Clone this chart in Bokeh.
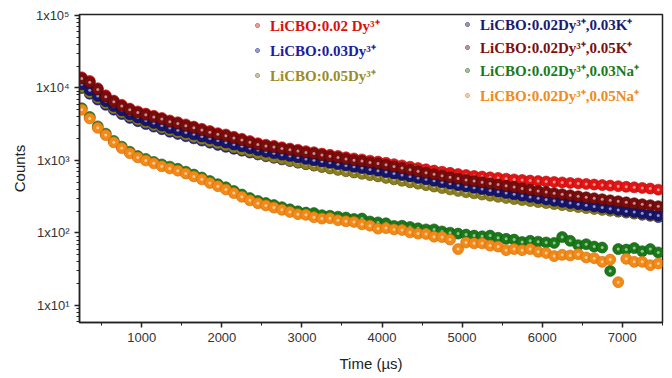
from bokeh.plotting import figure
from bokeh.models import Legend, LegendItem, FixedTicker, Range1d
from bokeh.embed import file_html
from bokeh.resources import INLINE

# ---- data ----
t_us = [250, 350, 450, 550, 650, 750, 850, 950, 1050, 1150, 1250, 1350, 1450, 1550, 1650,
        1750, 1850, 1950, 2050, 2150, 2250, 2350, 2450, 2550, 2650, 2750, 2850, 2950, 3050,
        3150, 3250, 3350, 3450, 3550, 3650, 3750, 3850, 3950, 4050, 4150, 4250, 4350, 4450,
        4550, 4650, 4750, 4850, 4950, 5050, 5150, 5250, 5350, 5450, 5550, 5650, 5750, 5850,
        5950, 6050, 6150, 6250, 6350, 6450, 6550, 6650, 6750, 6850, 6950, 7050, 7150, 7250,
        7350, 7450]

dy002 = [14000, 12500, 9900, 7900, 6700, 5850, 5200, 4750, 4430, 4130, 3860, 3560, 3370, 3140,
         2930, 2730, 2550, 2380, 2280, 2120, 1990, 1850, 1730, 1650, 1590, 1520, 1460, 1405, 1345,
         1300, 1245, 1195, 1155, 1105, 1065, 1035, 995, 965, 930, 890, 855, 820, 785, 755, 725,
         700, 675, 650, 630, 612, 600, 585, 575, 560, 548, 538, 528, 520, 512, 505, 498, 490, 482,
         474, 466, 458, 450, 442, 434, 426, 418, 410, 396]
dy003 = [10000, 8320, 6920, 5850, 5010, 4370, 3860, 3480, 3180, 2930, 2700, 2490, 2320, 2160,
         2020, 1880, 1760, 1640, 1540, 1450, 1365, 1285, 1210, 1145, 1090, 1035, 984, 935, 893,
         857, 822, 789, 757, 726, 697, 668, 641, 615, 589, 562, 537, 513, 490, 469, 450, 432, 414,
         397, 382, 368, 355, 342, 330, 318, 306, 295, 284, 274, 265, 256, 248, 240, 233, 225, 218,
         211, 205, 198, 192, 186, 179, 173, 166]
dy005 = [10230, 8650, 7290, 6120, 5250, 4570, 4050, 3650, 3330, 3070, 2830, 2610, 2430, 2260,
         2110, 1970, 1840, 1720, 1610, 1510, 1410, 1325, 1240, 1170, 1105, 1050, 990, 938, 891,
         851, 813, 776, 741, 711, 682, 655, 628, 603, 575, 550, 525, 501, 479, 457, 437, 417, 398,
         380, 365, 352, 339, 327, 315, 304, 294, 285, 276, 267, 259, 251, 243, 235, 228, 221, 215,
         209, 203, 198, 192, 186, 180, 175, 170]
k003 = [11220, 9330, 7760, 6560, 5620, 4900, 4340, 3910, 3560, 3290, 3030, 2800, 2610, 2440,
        2290, 2140, 2010, 1880, 1770, 1660, 1570, 1475, 1390, 1320, 1260, 1200, 1150, 1100, 1050,
        1007, 966, 927, 889, 853, 818, 785, 753, 723, 692, 661, 631, 603, 575, 550, 525, 501, 479,
        457, 438, 420, 403, 386, 371, 356, 341, 327, 314, 301, 290, 279, 269, 259, 250, 241, 232,
        224, 216, 208, 200, 194, 187, 180, 174]
k005 = [13500, 12000, 9550, 7590, 6460, 5620, 5010, 4570, 4270, 3980, 3720, 3430, 3240, 3020,
        2820, 2630, 2450, 2290, 2190, 2040, 1910, 1780, 1660, 1585, 1530, 1460, 1400, 1350, 1290,
        1245, 1190, 1140, 1100, 1050, 1010, 980, 940, 910, 870, 826, 785, 746, 708, 676, 646, 617,
        589, 562, 540, 520, 501, 483, 466, 447, 430, 412, 395, 380, 366, 354, 343, 332, 321, 311,
        301, 292, 282, 274, 265, 257, 249, 242, 234]
na003 = [5250, 3980, 2950, 2340, 1860, 1550, 1320, 1150, 1050, 955, 881, 822, 767, 700, 638, 582,
         521, 471, 427, 380, 339, 303, 277, 259, 243, 227, 212, 199, 191, 188, 176, 173, 168, 163,
         156, 158, 144, 140, 136, 125, 126, 121, 116, 112, 112, 105, 101, 98, 95, 92, 90, 92, 86,
         83, 81, 75, 78, 76, 74, 73, 88, 78, 68, 70, 65, 63, 30, 60, 59, 62, 56, 60, 54]
na005 = [5010, 3800, 2820, 2240, 1780, 1480, 1260, 1100, 1000, 912, 832, 776, 724, 661, 603, 550,
         490, 442, 398, 355, 316, 282, 257, 240, 224, 209, 195, 182, 178, 165, 158, 160, 150, 145,
         142, 132, 126, 115, 117, 112, 110, 102, 98, 97, 89, 88, 81, 60, 74, 72, 72, 67, 65, 58,
         60, 58, 60, 55, 53, 48, 50, 49, 51, 46, 45, 40, 43, 21, 44, 40, 40, 36, 38]

labels = ["LiCBO:0.02 Dy\u00b3\u207a", "LiCBO:0.03Dy\u00b3\u207a", "LiCBO:0.05Dy\u00b3\u207a",
          "LiCBO:0.02Dy\u00b3\u207a,0.03K\u207a", "LiCBO:0.02Dy\u00b3\u207a,0.05K\u207a",
          "LiCBO:0.02Dy\u00b3\u207a,0.03Na\u207a", "LiCBO:0.02Dy\u00b3\u207a,0.05Na\u207a"]
series = [dy002, dy003, dy005, k003, k005, na003, na005]
colors = ["#e31414", "#1c1ca6", "#8c8020", "#16166e", "#7a0c0c", "#1a7a1a", "#f28a18"]
edges = ["#b00a0a", "#10106e", "#5e5610", "#0c0c45", "#4e0606", "#0e540e", "#d06a08"]
text_colors = ["#d81010", "#1c1ca0", "#9a8c2a", "#1a1a70", "#7a1010", "#1a7a1a", "#f08a20"]

x_ticks = [1000, 2000, 3000, 4000, 5000, 6000, 7000]
y_ticks = [10, 100, 1000, 10000, 100000]
y_tick_labels = ["1x10\u00b9", "1x10\u00b2", "1x10\u00b3", "1x10\u2074", "1x10\u2075"]

# ---- figure ----
p = figure(width=672, height=378, x_range=Range1d(222, 7503), y_range=Range1d(5.83, 1.03e5),
           y_axis_type="log", output_backend="svg", toolbar_location=None,
           min_border_left=79, min_border_right=10, min_border_top=14, min_border_bottom=56)
p.grid.visible = False
p.outline_line_color = "#222222"
p.outline_line_width = 1.5
p.background_fill_color = "white"
p.border_fill_color = "white"

p.xaxis.ticker = FixedTicker(ticks=x_ticks, minor_ticks=[t - 500 for t in x_ticks] + [7500])
minor_y = [m * d for d in [1, 10, 100, 1000, 10000] for m in range(2, 10)]
p.yaxis.ticker = FixedTicker(ticks=y_ticks, minor_ticks=minor_y)
p.yaxis.major_label_overrides = {v: s for v, s in zip(y_ticks, y_tick_labels)}

for ax in (p.xaxis, p.yaxis):
    ax.axis_line_color = "#222222"
    ax.axis_line_width = 1.5
    ax.major_tick_line_color = "#222222"
    ax.minor_tick_line_color = "#222222"
    ax.major_tick_line_width = 1.5
    ax.major_tick_out = 5
    ax.major_tick_in = 0
    ax.minor_tick_out = 3
    ax.minor_tick_in = 0
    ax.major_label_text_font = "Liberation Sans"
    ax.major_label_text_font_size = "13px"
    ax.major_label_text_color = "#333333"
    ax.axis_label_text_font = "Liberation Sans"
    ax.axis_label_text_font_size = "15px"
    ax.axis_label_text_font_style = "normal"
    ax.axis_label_text_color = "#222222"

p.xaxis.axis_label = "Time (\u00b5s)"
p.yaxis.axis_label = "Counts"
p.xaxis.axis_label_standoff = 10
p.yaxis.axis_label_standoff = 5
p.xaxis.major_label_standoff = 5
p.yaxis.major_label_standoff = 5

renderers = []
for vals, c, e in zip(series, colors, edges):
    r = p.scatter(t_us, vals, size=11, fill_color=c, line_color=e, line_width=0.6)
    h = p.scatter(t_us, vals, size=3, fill_color="white", fill_alpha=0.55, line_color=None)
    renderers.append((r, h))

leg_pos = [(173, 287), (173, 262), (173, 237), (383, 288), (383, 265), (383, 242), (383, 217)]
for (r, h), lab, tc, pos in zip(renderers, labels, text_colors, leg_pos):
    leg = Legend(items=[LegendItem(label=lab, renderers=[r, h])], location=pos,
                 padding=0, margin=0, spacing=0, glyph_width=10, glyph_height=12,
                 label_height=16, label_standoff=8, border_line_color=None,
                 background_fill_alpha=0, label_text_font="Liberation Serif",
                 label_text_font_style="bold", label_text_font_size="15px",
                 label_text_color=tc)
    p.add_layout(leg)

open("out.html", "w").write(file_html(p, INLINE))
